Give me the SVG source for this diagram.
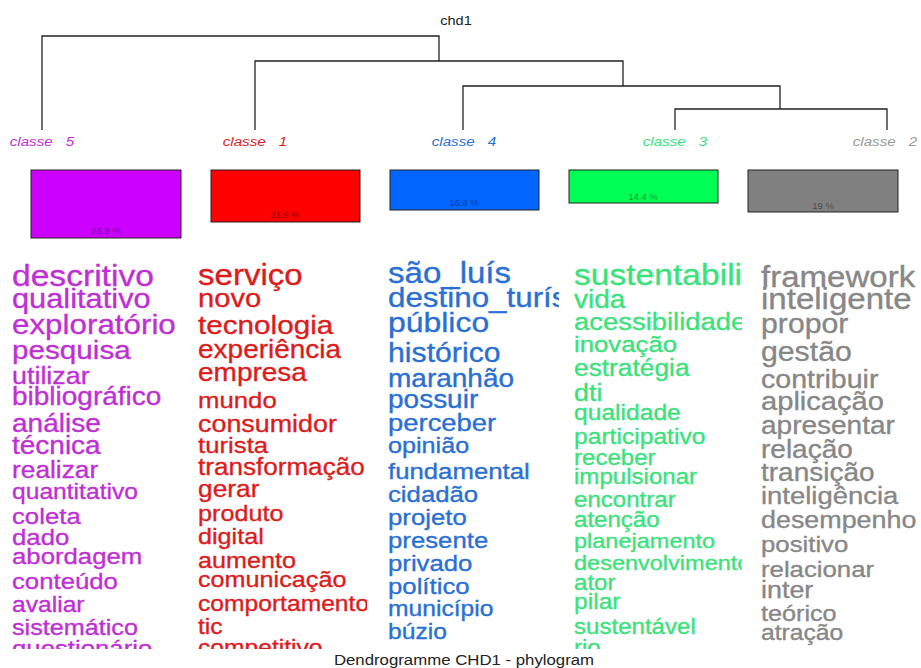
<svg xmlns="http://www.w3.org/2000/svg" width="921" height="668" viewBox="0 0 921 668">
<style>
text{font-family:"Liberation Sans",Arial,sans-serif}
.ln{stroke:#222;stroke-width:1.3;fill:none}
.cl{font-size:13.5px;font-style:italic;text-anchor:middle;word-spacing:8px}
.box{stroke:#222;stroke-width:1}
.pc{font-size:8.5px;text-anchor:middle;fill:#000;fill-opacity:0.45}
.w text{stroke-width:0.35px}
.c5{fill:#bf30d4;stroke:#bf30d4}.c1{fill:#dc1c1c;stroke:#dc1c1c}.c4{fill:#2a6fd4;stroke:#2a6fd4}.c3{fill:#3be27c;stroke:#3be27c}.c2{fill:#878787;stroke:#878787}
.cl.c5,.cl.c1,.cl.c4,.cl.c3{stroke:none}
</style>
<defs>
<clipPath id="k1"><rect x="0" y="250" width="190" height="399"/></clipPath>
<clipPath id="k2"><rect x="190" y="250" width="177" height="399"/></clipPath>
<clipPath id="k3"><rect x="380" y="250" width="179" height="399"/></clipPath>
<clipPath id="k4"><rect x="565" y="250" width="177" height="399"/></clipPath>
<clipPath id="k5"><rect x="755" y="250" width="166" height="399"/></clipPath>
</defs>
<rect width="921" height="668" fill="#fff"/>
<text transform="translate(456,25) scale(1.12,1)" font-size="13" text-anchor="middle" fill="#222">chd1</text>
<g id="connectors">
<path class="ln" d="M42,130V36H439V61"/>
<path class="ln" d="M255,130V61H623V86"/>
<path class="ln" d="M463,130V86H780V109"/>
<path class="ln" d="M675,130V109H887V130"/>
</g>
<g id="classe5"><text class="cl c5" transform="translate(42,146) scale(1.12,1)">classe 5</text>
<rect class="box" x="31" y="170" width="150" height="68" fill="#cc00ff"/><text class="pc" transform="translate(106,234) scale(1.12,1)">26.9 %</text></g>
<g id="classe1"><text class="cl c1" transform="translate(255,146) scale(1.12,1)">classe 1</text>
<rect class="box" x="211" y="170" width="149" height="52" fill="#ff0000"/><text class="pc" transform="translate(285,218) scale(1.12,1)">21.9 %</text></g>
<g id="classe4"><text class="cl c4" transform="translate(464,146) scale(1.12,1)">classe 4</text>
<rect class="box" x="390" y="170" width="149" height="40" fill="#0066ff"/><text class="pc" transform="translate(464,206) scale(1.12,1)">16.6 %</text></g>
<g id="classe3"><text class="cl c3" transform="translate(675,146) scale(1.12,1)">classe 3</text>
<rect class="box" x="569" y="170" width="149" height="33" fill="#00ff55"/><text class="pc" transform="translate(643,200) scale(1.12,1)">14.4 %</text></g>
<g id="classe2"><text class="cl" transform="translate(885,146) scale(1.12,1)" fill="#999">classe 2</text>
<rect class="box" x="748" y="170" width="150" height="42" fill="#808080"/><text class="pc" transform="translate(823,209) scale(1.12,1)">19 %</text></g>
<g id="words5" clip-path="url(#k1)"><g class="w c5" transform="translate(12,0) scale(1.12,1)">
<text x="0" y="286" font-size="30">descritivo</text>
<text x="0" y="308" font-size="27.5">qualitativo</text>
<text x="0" y="334" font-size="28">exploratório</text>
<text x="0" y="359" font-size="26.5">pesquisa</text>
<text x="0" y="384" font-size="24">utilizar</text>
<text x="0" y="405" font-size="25">bibliográfico</text>
<text x="0" y="432" font-size="25">análise</text>
<text x="0" y="454" font-size="25">técnica</text>
<text x="0" y="478" font-size="23.5">realizar</text>
<text x="0" y="499" font-size="22">quantitativo</text>
<text x="0" y="524" font-size="23">coleta</text>
<text x="0" y="545" font-size="23">dado</text>
<text x="0" y="564" font-size="23">abordagem</text>
<text x="0" y="589" font-size="23">conteúdo</text>
<text x="0" y="612" font-size="22">avaliar</text>
<text x="0" y="635" font-size="22.5">sistemático</text>
<text x="0" y="656" font-size="23">questionário</text>
</g></g>
<g id="words1" clip-path="url(#k2)"><g class="w c1" transform="translate(198,0) scale(1.12,1)">
<text x="0" y="285" font-size="29.5">serviço</text>
<text x="0" y="307" font-size="26">novo</text>
<text x="0" y="334" font-size="26.5">tecnologia</text>
<text x="0" y="358" font-size="25">experiência</text>
<text x="0" y="381" font-size="25">empresa</text>
<text x="0" y="408" font-size="23">mundo</text>
<text x="0" y="432" font-size="24">consumidor</text>
<text x="0" y="453" font-size="23">turista</text>
<text x="0" y="475" font-size="23.3">transformação</text>
<text x="0" y="497" font-size="23.5">gerar</text>
<text x="0" y="521" font-size="22.5">produto</text>
<text x="0" y="544" font-size="22.5">digital</text>
<text x="0" y="568" font-size="22.5">aumento</text>
<text x="0" y="587" font-size="22.5">comunicação</text>
<text x="0" y="611" font-size="22">comportamento</text>
<text x="0" y="634" font-size="22">tic</text>
<text x="0" y="655" font-size="22">competitivo</text>
</g></g>
<g id="words4" clip-path="url(#k3)"><g class="w c4" transform="translate(388,0) scale(1.12,1)">
<text x="0" y="283" font-size="29.5">são_luís</text>
<text x="0" y="307" font-size="28">destino_turístico</text>
<text x="0" y="332" font-size="28.5">público</text>
<text x="0" y="362" font-size="27">histórico</text>
<text x="0" y="387" font-size="25">maranhão</text>
<text x="0" y="408" font-size="25">possuir</text>
<text x="0" y="431" font-size="24.5">perceber</text>
<text x="0" y="453" font-size="22.5">opinião</text>
<text x="0" y="479" font-size="23">fundamental</text>
<text x="0" y="502" font-size="23">cidadão</text>
<text x="0" y="525" font-size="23">projeto</text>
<text x="0" y="548" font-size="23">presente</text>
<text x="0" y="571" font-size="23">privado</text>
<text x="0" y="594" font-size="23">político</text>
<text x="0" y="616" font-size="22">município</text>
<text x="0" y="639" font-size="22">búzio</text>
</g></g>
<g id="words3" clip-path="url(#k4)"><g class="w c3" transform="translate(574,0) scale(1.12,1)">
<text x="0" y="285" font-size="30">sustentabilidade</text>
<text x="0" y="308" font-size="25">vida</text>
<text x="0" y="330" font-size="24.5">acessibilidade</text>
<text x="0" y="352" font-size="23">inovação</text>
<text x="0" y="376" font-size="23.5">estratégia</text>
<text x="0" y="401" font-size="24">dti</text>
<text x="0" y="420" font-size="22">qualidade</text>
<text x="0" y="444" font-size="22">participativo</text>
<text x="0" y="465" font-size="21.5">receber</text>
<text x="0" y="484" font-size="21.5">impulsionar</text>
<text x="0" y="507" font-size="21.5">encontrar</text>
<text x="0" y="527" font-size="21.5">atenção</text>
<text x="0" y="548" font-size="21">planejamento</text>
<text x="0" y="570" font-size="21">desenvolvimento</text>
<text x="0" y="590" font-size="21.5">ator</text>
<text x="0" y="609" font-size="22">pilar</text>
<text x="0" y="634" font-size="21.5">sustentável</text>
<text x="0" y="655" font-size="21.5">rio</text>
</g></g>
<g id="words2" clip-path="url(#k5)"><g class="w c2" transform="translate(761,0) scale(1.12,1)">
<text x="0" y="287" font-size="29.5">framework</text>
<text x="0" y="309" font-size="29.5">inteligente</text>
<text x="0" y="333" font-size="27">propor</text>
<text x="0" y="361" font-size="27">gestão</text>
<text x="0" y="388" font-size="25.5">contribuir</text>
<text x="0" y="410" font-size="26">aplicação</text>
<text x="0" y="434" font-size="25">apresentar</text>
<text x="0" y="458" font-size="25">relação</text>
<text x="0" y="481" font-size="25">transição</text>
<text x="0" y="504" font-size="24.5">inteligência</text>
<text x="0" y="528" font-size="24">desempenho</text>
<text x="0" y="552" font-size="23">positivo</text>
<text x="0" y="577" font-size="23">relacionar</text>
<text x="0" y="598" font-size="24">inter</text>
<text x="0" y="621" font-size="22.5">teórico</text>
<text x="0" y="640" font-size="22">atração</text>
</g></g>
<text transform="translate(464,665) scale(1.12,1)" font-size="15" text-anchor="middle" fill="#222">Dendrogramme CHD1 - phylogram</text>
</svg>
